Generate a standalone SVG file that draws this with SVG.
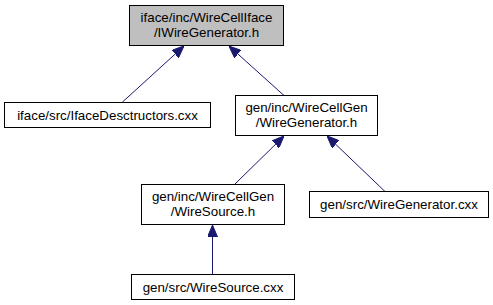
<svg xmlns="http://www.w3.org/2000/svg" width="493" height="305" viewBox="0 0 493 305">
  <style>
    .node rect { fill: #ffffff; stroke: #000000; stroke-width: 1; }
    .node.root rect { fill: #bfbfbf; }
    .node text { font-family: "Liberation Sans", Arial, sans-serif; font-size: 13.33px; fill: #000000; text-anchor: middle; }
    .edge { stroke: #191970; stroke-width: 1; fill: none; marker-end: url(#arrow); }
  </style>
  <defs>
    <marker id="arrow" viewBox="0 0 12 10" markerUnits="userSpaceOnUse" markerWidth="12" markerHeight="10" refX="12" refY="5" orient="auto">
      <path d="M0,0 L12,5 L0,10 Z" fill="#191970" stroke="#191970" stroke-width="1"/>
    </marker>
  </defs>

  <!-- include dependency edges (child points to the header it includes) -->
  <g id="edges">
    <line class="edge" x1="122.5" y1="102" x2="184" y2="46"/>
    <line class="edge" x1="284" y1="95.5" x2="229" y2="46"/>
    <line class="edge" x1="235" y1="184" x2="284" y2="136"/>
    <line class="edge" x1="385" y1="191.5" x2="327" y2="136"/>
    <line class="edge" x1="212.5" y1="274" x2="212.5" y2="225"/>
  </g>

  <g id="node-IWireGenerator-h" class="node root">
    <rect x="129.5" y="5.5" width="154" height="40"/>
    <text x="206.5" y="21.5">iface/inc/WireCellIface</text>
    <text x="206.5" y="36.5">/IWireGenerator.h</text>
  </g>

  <g id="node-IfaceDesctructors-cxx" class="node">
    <rect x="4.5" y="102.5" width="206" height="25"/>
    <text x="107.5" y="119.5">iface/src/IfaceDesctructors.cxx</text>
  </g>

  <g id="node-WireGenerator-h" class="node">
    <rect x="235.5" y="95.5" width="142" height="40"/>
    <text x="306.5" y="111.5">gen/inc/WireCellGen</text>
    <text x="306.5" y="126.5">/WireGenerator.h</text>
  </g>

  <g id="node-WireSource-h" class="node">
    <rect x="141.5" y="184.5" width="143" height="40"/>
    <text x="213" y="200.5">gen/inc/WireCellGen</text>
    <text x="213" y="215.5">/WireSource.h</text>
  </g>

  <g id="node-WireGenerator-cxx" class="node">
    <rect x="309.5" y="191.5" width="179" height="26"/>
    <text x="399" y="209">gen/src/WireGenerator.cxx</text>
  </g>

  <g id="node-WireSource-cxx" class="node">
    <rect x="131.5" y="274.5" width="163" height="25"/>
    <text x="213" y="291.5">gen/src/WireSource.cxx</text>
  </g>
</svg>
